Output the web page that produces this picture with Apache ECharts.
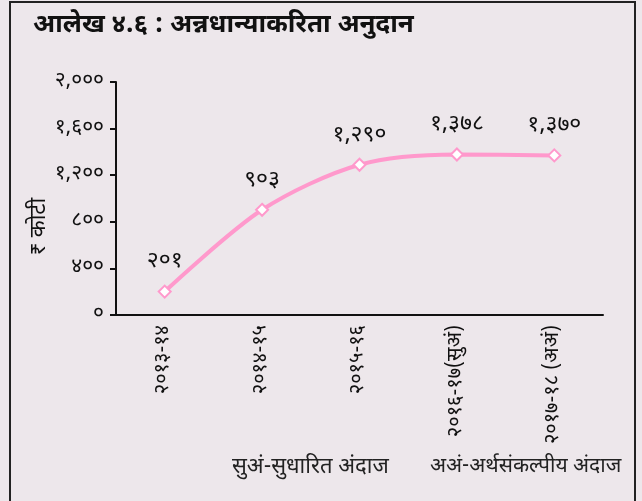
<!DOCTYPE html>
<html>
<head>
<meta charset="utf-8">
<script src="https://cdn.jsdelivr.net/npm/echarts@6/dist/echarts.min.js"></script>
<style>
  html, body { margin: 0; padding: 0; background: #fff; }
  #chart { width: 642px; height: 501px; }
</style>
</head>
<body>
<div id="chart"></div>
<script>
// categories and values
const years = ['२०१३-१४', '२०१४-१५', '२०१५-१६', '२०१६-१७(सुअं)', '२०१७-१८ (अअं)']
const subsidy = [201, 903, 1290, 1378, 1370]
const titleText = 'आलेख ४.६ : अन्नधान्याकरिता अनुदान'
const unitText = '₹ कोटी'
const noteTexts = ['सुअं-सुधारित अंदाज', 'अअं-अर्थसंकल्पीय अंदाज']

const devDigits = '०१२३४५६७८९'
// 1290 -> १,२९०
const toDev = (n) => String(n).replace(/\B(?=(\d{3})+(?!\d))/g, ',')
    .replace(/\d/g, d => devDigits[+d])

const font = '"Noto Sans Devanagari", "Noto Sans", "Lohit Devanagari", sans-serif'

let myChart = echarts.init(document.getElementById('chart'))
myChart.setOption({
    backgroundColor: '#ede7eb',
    textStyle: { fontFamily: font },
    graphic: [
        {
            type: 'rect',
            shape: { x: 10, y: 2, width: 625, height: 510 },
            style: { fill: 'none', stroke: '#222', lineWidth: 2 },
            silent: true
        },
        {
            type: 'text',
            left: 232,
            top: 458,
            style: { text: noteTexts[0], font: '22px ' + font, fill: '#222' }
        },
        {
            type: 'text',
            left: 430,
            top: 458,
            style: { text: noteTexts[1], font: '21px ' + font, fill: '#222' }
        }
    ],
    title: {
        text: titleText,
        left: 28,
        top: 9,
        textStyle: { fontSize: 26, fontWeight: 'bold', color: '#111', fontFamily: font }
    },
    grid: { left: 116, right: 39, top: 82, bottom: 186 },
    xAxis: {
        type: 'category',
        data: years,
        boundaryGap: true,
        axisLine: { lineStyle: { color: '#111', width: 2 } },
        axisTick: { alignWithLabel: false, length: 6, lineStyle: { color: '#111', width: 2 } },
        axisLabel: { rotate: 90, color: '#111', fontSize: 20, margin: 10, interval: 0 }
    },
    yAxis: {
        type: 'value',
        min: 0,
        max: 2000,
        interval: 400,
        name: unitText,
        nameLocation: 'middle',
        nameGap: 64,
        nameRotate: 90,
        nameMoveOverlap: false,
        nameTextStyle: { fontSize: 22, color: '#111', padding: [0, 56, 0, 0] },
        splitLine: { show: false },
        axisLine: { show: true, lineStyle: { color: '#111', width: 2 } },
        axisTick: { show: true, length: 6, lineStyle: { color: '#111', width: 2 } },
        axisLabel: { color: '#111', fontSize: 21, margin: 12, formatter: v => toDev(v) }
    },
    series: [{
        type: 'line',
        data: subsidy,
        smooth: 0.3,
        symbol: 'diamond',
        symbolSize: 12,
        lineStyle: { color: '#ff99cc', width: 4 },
        itemStyle: { color: '#fff', borderColor: '#ff99cc', borderWidth: 2 },
        label: {
            show: true,
            position: 'top',
            distance: 10,
            fontSize: 23,
            color: '#111',
            formatter: p => toDev(p.value)
        }
    }]
})
</script>
</body>
</html>
